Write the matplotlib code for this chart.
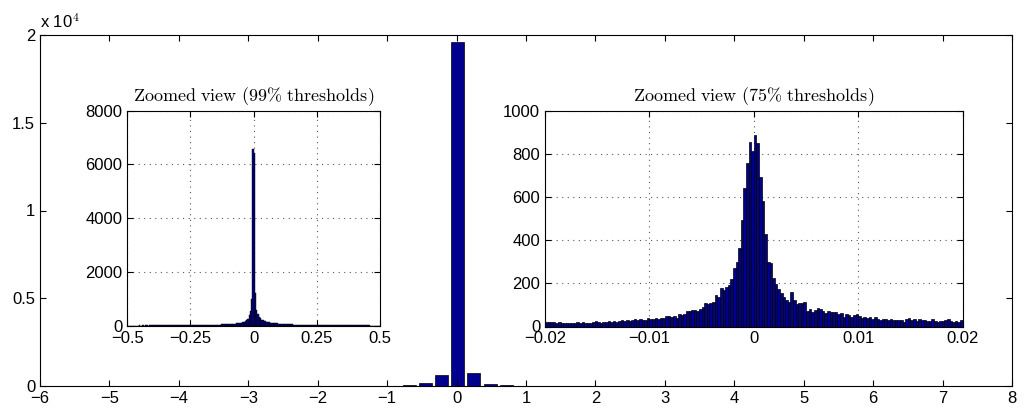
import matplotlib
matplotlib.use("Agg")
import matplotlib.pyplot as plt
from matplotlib.ticker import FuncFormatter
import numpy as np

plt.rcParams['font.family'] = ['Liberation Sans', 'DejaVu Sans']
plt.rcParams['mathtext.fontset'] = 'cm'

# main histogram (bars near zero)
main_centers = [-0.685, -0.452, -0.218, 0.015, 0.248, 0.482, 0.715, 0.948]
main_counts = [30, 170, 630, 19600, 740, 115, 57, 15]
main_bar_width = 0.187

# zoomed view, 99% thresholds: 200 bins of 0.005 from -0.5 to 0.5
z99_counts = [
    6, 5, 7, 6, 6, 7, 5, 6, 7, 8, 7, 6, 8, 7, 8, 9, 7, 8, 9, 8,
    9, 10, 8, 9, 10, 11, 9, 10, 12, 11, 10, 12, 13, 11, 12, 14, 13, 12, 14, 15,
    14, 16, 15, 17, 16, 18, 17, 19, 18, 20, 21, 19, 22, 23, 21, 24, 25, 23, 26, 27,
    28, 27, 30, 31, 29, 33, 34, 32, 36, 38, 37, 40, 42, 41, 45, 47, 50, 52, 55, 58,
    60, 63, 66, 70, 73, 78, 82, 88, 92, 100, 112, 128, 150, 180, 220, 260, 380, 560, 1000, 6560,
    6410, 1205, 600, 420, 330, 270, 230, 200, 180, 160, 145, 130, 120, 112, 105, 98, 92, 87, 82, 78,
    74, 70, 67, 63, 60, 58, 55, 52, 50, 48, 46, 44, 42, 41, 40, 38, 37, 35, 34, 33,
    32, 31, 30, 29, 28, 27, 27, 26, 25, 24, 24, 23, 22, 22, 21, 20, 20, 19, 19, 18,
    18, 17, 17, 16, 16, 15, 15, 15, 14, 14, 13, 13, 13, 12, 12, 12, 11, 11, 11, 10,
    10, 10, 10, 9, 9, 9, 9, 8, 8, 8, 8, 8, 7, 7, 7, 7, 7, 6, 6, 6,
]
z99_range = (-0.5, 0.5)

# zoomed view, 75% thresholds: 160 bins of 0.00025 from -0.02 to 0.02
z75_counts = [
    21, 19, 20, 19, 18, 19, 17, 16, 14, 16, 18, 17, 20, 18, 19, 16, 14, 18, 22, 25,
    23, 18, 20, 22, 24, 23, 25, 22, 26, 28, 25, 31, 27, 30, 33, 29, 34, 32, 30, 38,
    36, 37, 39, 33, 40, 38, 49, 47, 44, 50, 38, 56, 53, 57, 70, 72, 75, 77, 74, 82,
    92, 111, 105, 108, 114, 145, 138, 177, 168, 185, 192, 220, 270, 300, 362, 495, 643, 757, 854, 815,
    889, 851, 692, 580, 428, 300, 292, 223, 195, 174, 154, 135, 123, 112, 158, 123, 103, 108, 111, 114,
    74, 80, 69, 77, 86, 82, 74, 62, 74, 68, 65, 68, 57, 62, 46, 60, 54, 46, 55, 57,
    49, 38, 43, 38, 43, 34, 43, 34, 31, 34, 37, 31, 34, 31, 31, 31, 30, 23, 37, 40,
    28, 34, 26, 34, 28, 31, 26, 26, 34, 26, 23, 26, 26, 31, 34, 26, 23, 26, 20, 32,
]
z75_range = (-0.02, 0.02)

bar_face = '#00008f'
tick_fs = 12
title_fs = 13


def hist_bars(ax, counts, lo, hi, lw):
    edges = np.linspace(lo, hi, len(counts) + 1)
    ax.bar(edges[:-1], counts, width=np.diff(edges), align='edge',
           color=bar_face, edgecolor='black', linewidth=lw)


def style_ax(ax):
    ax.tick_params(direction='in', top=True, right=True, labelsize=tick_fs, length=4)
    for s in ax.spines.values():
        s.set_linewidth(0.8)


def fmt_g(v, pos):
    return ('%g' % v).replace('-', '\u2212')


fig = plt.figure(figsize=(10.25, 4.12), dpi=100)
W, H = 1025.0, 412.0

ax = fig.add_axes([40 / W, 1 - 386 / H, (1012 - 40) / W, (386 - 35) / H])
ax.bar(main_centers, main_counts, width=main_bar_width,
       color=bar_face, edgecolor='black', linewidth=0.5)
ax.set_xlim(-6, 8)
ax.set_ylim(0, 20000)
ax.set_xticks(range(-6, 9))
ax.set_yticks([0, 5000, 10000, 15000, 20000])
ax.xaxis.set_major_formatter(FuncFormatter(fmt_g))
ax.yaxis.set_major_formatter(FuncFormatter(lambda v, p: '%g' % (v / 1e4)))
style_ax(ax)
ax.text(0.0, 1.012, r'x 10$^{\mathsf{4}}$', transform=ax.transAxes,
        fontsize=tick_fs, ha='left', va='bottom')

# inset: 99% thresholds
ax1 = fig.add_axes([127.3 / W, 1 - 325.7 / H, (380 - 127.3) / W, (325.7 - 110.7) / H])
hist_bars(ax1, z99_counts, z99_range[0], z99_range[1], 0.3)
ax1.set_xlim(-0.5, 0.5)
ax1.set_ylim(0, 8000)
ax1.set_xticks([-0.5, -0.25, 0, 0.25, 0.5])
ax1.set_yticks([0, 2000, 4000, 6000, 8000])
ax1.xaxis.set_major_formatter(FuncFormatter(fmt_g))
ax1.grid(True, color='0.35', linestyle=(0, (1, 4)), linewidth=0.8)
ax1.set_axisbelow(True)
style_ax(ax1)
ax1.set_title(r'$\mathrm{Zoomed\ view\ (99\%\ thresholds)}$', fontsize=title_fs, pad=7)

# inset: 75% thresholds
ax2 = fig.add_axes([545 / W, 1 - 326.5 / H, (962.7 - 545) / W, (326.5 - 110.7) / H])
hist_bars(ax2, z75_counts, z75_range[0], z75_range[1], 0.5)
ax2.set_xlim(-0.02, 0.02)
ax2.set_ylim(0, 1000)
ax2.set_xticks([-0.02, -0.01, 0, 0.01, 0.02])
ax2.set_yticks(range(0, 1001, 200))
ax2.xaxis.set_major_formatter(FuncFormatter(fmt_g))
ax2.grid(True, color='0.35', linestyle=(0, (1, 4)), linewidth=0.8)
ax2.set_axisbelow(True)
style_ax(ax2)
ax2.set_title(r'$\mathrm{Zoomed\ view\ (75\%\ thresholds)}$', fontsize=title_fs, pad=7)

fig.savefig('out.png', dpi=100)
